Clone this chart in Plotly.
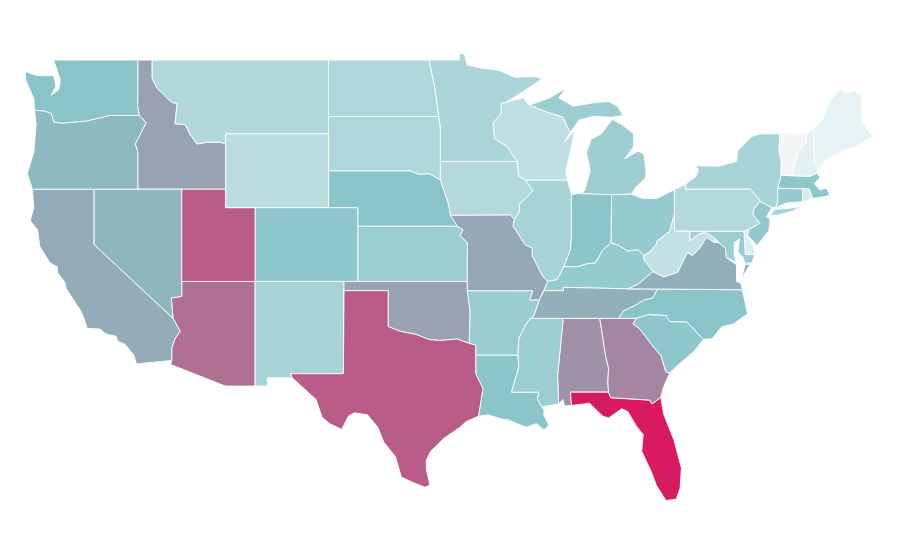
import plotly.graph_objects as go
from plotly.colors import sample_colorscale

# NOTE: state outlines below are hand-approximated lon/lat reference geometry,
# because Plotly's US topojson is fetched from a CDN and there is no network.
# They are coarser than the true boundaries in the reference chart.
# The reference uses a plain linear lon/lat projection, so linear axes reproduce it.
states = ["AL","AR","AZ","CA","CO","CT","DE","FL","GA","IA","ID","IL","IN","KS","KY","LA","MA","MD","ME","MI","MN","MO","MS","MT","NC","ND","NE","NH","NJ","NM","NV","NY","OH","OK","OR","PA","RI","SC","SD","TN","TX","UT","VA","VT","WA","WI","WV","WY"]
values = [58,34,70,49,38,35,8,100,62,24,52,29,39,33,35,39,38,33,5,33,27,50,33,25,40,26,40,6,36,29,45,28,35,52,44,24,10,38,26,47,77,77,47,0,40,20,18,22]
colorscale = [[0,"#f3f5f6"],[0.06,"#e3f1f3"],[0.4,"#88c4c8"],[1,"#d81b60"]]
lon_range = [-125.86, -64.63]
lat_range = [21.47, 51.82]

shapes = {
"WA":[[[-124.7,48.38],[-123.9,48.17],[-123.1,48.15],[-122.75,48.15],[-122.6,47.6],[-122.9,47.1],[-122.4,47.4],[-122.3,47.9],[-122.5,48.4],[-122.76,49],[-117.03,49],[-117.04,46.42],[-116.92,46],[-118.98,46],[-119.3,45.93],[-120.5,45.7],[-121.2,45.65],[-122.2,45.58],[-122.75,45.65],[-122.9,46.1],[-123.4,46.25],[-124.05,46.27],[-124.1,46.9],[-124.65,47.9]]],
"OR":[[[-124.05,46.27],[-123.4,46.25],[-122.9,46.1],[-122.75,45.65],[-122.2,45.58],[-121.2,45.65],[-120.5,45.7],[-119.3,45.93],[-118.98,46],[-116.92,46],[-116.47,45.6],[-116.85,45],[-117.2,44.45],[-117.03,44],[-117.03,42],[-124.2,42],[-124.55,42.85],[-124.1,44],[-123.95,45.5]]],
"CA":[[[-124.2,42],[-120,42],[-120,39],[-114.63,35],[-114.15,34.3],[-114.5,33.9],[-114.72,33.4],[-114.72,32.72],[-117.12,32.53],[-117.3,33],[-117.9,33.6],[-118.4,33.75],[-118.5,34.03],[-119.2,34.15],[-119.6,34.42],[-120.47,34.45],[-120.65,34.9],[-120.9,35.4],[-121.9,36.6],[-122,36.95],[-122.5,37.5],[-122.5,37.8],[-123,38],[-123.7,38.9],[-123.85,39.8],[-124.35,40.3],[-124.1,41]]],
"NV":[[[-120,42],[-114.04,42],[-114.04,36.2],[-114.75,36.1],[-114.63,35],[-120,39]]],
"ID":[[[-117.03,49],[-116.05,49],[-116.05,48],[-115.7,47.45],[-114.7,46.7],[-114.35,46.65],[-114.5,45.55],[-113.8,45.5],[-113.45,44.95],[-113,44.45],[-112.3,44.55],[-111.5,44.55],[-111.05,44.48],[-111.05,42],[-117.03,42],[-117.03,44],[-117.2,44.45],[-116.85,45],[-116.47,45.6],[-116.92,46],[-117.04,46.42]]],
"MT":[[[-116.05,49],[-104.05,49],[-104.05,45],[-111.05,45],[-111.05,44.48],[-111.5,44.55],[-112.3,44.55],[-113,44.45],[-113.45,44.95],[-113.8,45.5],[-114.5,45.55],[-114.35,46.65],[-114.7,46.7],[-115.7,47.45],[-116.05,48]]],
"WY":[[[-111.05,45],[-104.05,45],[-104.05,41],[-111.05,41]]],
"UT":[[[-114.04,42],[-111.05,42],[-111.05,41],[-109.05,41],[-109.05,37],[-114.04,37]]],
"CO":[[[-109.05,41],[-102.05,41],[-102.05,37],[-109.05,37]]],
"AZ":[[[-114.04,37],[-109.05,37],[-109.05,31.33],[-111.07,31.33],[-114.8,32.5],[-114.72,32.72],[-114.72,33.4],[-114.5,33.9],[-114.15,34.3],[-114.63,35],[-114.75,36.1],[-114.04,36.2]]],
"NM":[[[-109.05,37],[-103,37],[-103.04,32],[-106.62,32],[-106.53,31.78],[-108.2,31.78],[-108.2,31.33],[-109.05,31.33]]],
"TX":[[[-106.62,32],[-103.04,32],[-103,36.5],[-100,36.5],[-100,34.56],[-99.2,34.3],[-98.1,34.13],[-97.2,33.85],[-96.5,33.8],[-95.3,33.88],[-94.48,33.64],[-94.04,33.55],[-94.04,33],[-94.04,31.99],[-93.55,31.2],[-93.7,30.5],[-93.85,29.7],[-94.7,29.4],[-95.1,29.1],[-96.2,28.5],[-97.1,27.8],[-97.4,27.3],[-97.4,26.8],[-97.15,25.96],[-97.5,25.85],[-98.3,26.1],[-99.1,26.4],[-99.5,27.5],[-100.3,28.3],[-100.7,29.1],[-101.4,29.77],[-102.3,29.88],[-102.7,29.7],[-103.15,28.98],[-104,29.3],[-104.5,29.65],[-104.9,30.6],[-106,31.4],[-106.53,31.78]]],
"OK":[[[-103,37],[-94.62,37],[-94.62,36.5],[-94.43,35.4],[-94.48,33.64],[-95.3,33.88],[-96.5,33.8],[-97.2,33.85],[-98.1,34.13],[-99.2,34.3],[-100,34.56],[-100,36.5],[-103,36.5]]],
"KS":[[[-102.05,40],[-95.3,40],[-94.9,39.8],[-95.1,39.5],[-94.6,39.1],[-94.62,37],[-102.05,37]]],
"NE":[[[-104.05,43],[-98.5,43],[-97.9,42.8],[-97.2,42.85],[-96.45,42.5],[-96.1,41.7],[-95.9,41.2],[-95.77,40.58],[-95.3,40],[-102.05,40],[-102.05,41],[-104.05,41]]],
"SD":[[[-104.05,45.94],[-96.56,45.94],[-96.45,45.3],[-96.45,43.5],[-96.45,42.5],[-97.2,42.85],[-97.9,42.8],[-98.5,43],[-104.05,43]]],
"ND":[[[-104.05,49],[-97.23,49],[-96.85,47.6],[-96.56,45.94],[-104.05,45.94]]],
"MN":[[[-97.23,49],[-95.15,49],[-95.15,49.38],[-94.8,49.3],[-94.6,48.72],[-93.5,48.55],[-92.5,48.45],[-91.4,48.07],[-90,48.1],[-89.5,48],[-90.8,47.3],[-92,46.7],[-92.3,46.66],[-92.3,46.1],[-92.85,45.6],[-92.75,44.75],[-91.9,44.3],[-91.22,43.5],[-96.45,43.5],[-96.45,45.3],[-96.56,45.94],[-96.85,47.6]]],
"IA":[[[-96.45,43.5],[-91.22,43.5],[-91.1,42.7],[-90.64,42.5],[-90.15,41.9],[-91.05,41.2],[-91.1,40.7],[-91.42,40.38],[-91.7,40.6],[-95.77,40.58],[-95.9,41.2],[-96.1,41.7],[-96.45,42.5]]],
"MO":[[[-95.77,40.58],[-91.7,40.6],[-91.42,40.38],[-91.5,40],[-90.7,39],[-90.2,38.8],[-90.2,38.4],[-89.5,37.3],[-89.15,37],[-89.4,36.5],[-89.7,36],[-90.37,36],[-90.15,36.5],[-94.62,36.5],[-94.62,37],[-94.6,39.1],[-95.1,39.5],[-94.9,39.8],[-95.3,40]]],
"AR":[[[-94.62,36.5],[-90.15,36.5],[-90.37,36],[-89.7,36],[-90.1,35.1],[-90.3,35],[-90.6,34.7],[-91.1,33.9],[-91.17,33],[-94.04,33],[-94.04,33.55],[-94.48,33.64],[-94.43,35.4]]],
"LA":[[[-94.04,33],[-91.17,33],[-91.1,32.4],[-91.6,31],[-89.73,31],[-89.85,30.65],[-89.55,30.2],[-89.4,30.05],[-89.4,29.75],[-89.05,29.2],[-89.4,28.95],[-89.9,29.3],[-90.6,29.1],[-91.3,29.3],[-91.85,29.5],[-92.3,29.55],[-93.2,29.77],[-93.85,29.7],[-93.7,30.5],[-93.55,31.2],[-94.04,31.99]]],
"MS":[[[-90.3,35],[-88.2,35],[-88.1,34.9],[-88.47,31.9],[-88.4,30.37],[-89.55,30.2],[-89.85,30.65],[-89.73,31],[-91.6,31],[-91.1,32.4],[-91.17,33],[-91.1,33.9],[-90.6,34.7]]],
"AL":[[[-88.2,35],[-85.6,35],[-85.18,32.87],[-85,32.3],[-85.05,31.55],[-85,31],[-87.6,31],[-87.52,30.28],[-88,30.25],[-88.1,30.6],[-88.4,30.37],[-88.47,31.9],[-88.1,34.9]]],
"GA":[[[-85.6,35],[-83.1,35],[-83.35,34.7],[-82.9,34.45],[-81.9,33.4],[-81.45,33],[-81.1,32.1],[-80.85,32.03],[-81.3,31.2],[-81.45,30.72],[-82.05,30.36],[-82.2,30.57],[-84.86,30.7],[-85,31],[-85.05,31.55],[-85,32.3],[-85.18,32.87]]],
"FL":[[[-87.6,31],[-85,31],[-84.86,30.7],[-82.2,30.57],[-82.05,30.36],[-81.45,30.72],[-81.25,29.8],[-80.55,28.4],[-80.05,26.9],[-80.13,25.8],[-80.4,25.2],[-81.1,25.13],[-81.75,25.95],[-82.1,26.7],[-82.75,27.8],[-82.65,28.7],[-83.1,29.15],[-83.7,29.95],[-84.1,30.1],[-85,29.6],[-85.4,29.7],[-86.3,30.4],[-87.52,30.28]]],
"SC":[[[-83.1,35],[-82.3,35.2],[-81.05,35.15],[-81.05,35.05],[-80.8,34.82],[-79.67,34.8],[-78.55,33.86],[-79.2,33.2],[-80.45,32.35],[-80.85,32.03],[-81.1,32.1],[-81.45,33],[-81.9,33.4],[-82.9,34.45],[-83.35,34.7]]],
"NC":[[[-84.32,35],[-83.1,35],[-82.3,35.2],[-81.05,35.15],[-81.05,35.05],[-80.8,34.82],[-79.67,34.8],[-78.55,33.86],[-77.95,33.9],[-77.3,34.55],[-76.5,34.7],[-75.55,35.25],[-75.9,36.55],[-81.68,36.59],[-82,36.1],[-82.6,36],[-83.1,35.75],[-84,35.4]]],
"TN":[[[-90.3,35],[-84.32,35],[-84,35.4],[-83.1,35.75],[-82.6,36],[-82,36.1],[-81.68,36.59],[-83.68,36.6],[-88.07,36.68],[-88.07,36.5],[-89.4,36.5],[-89.7,36],[-90.1,35.1]]],
"KY":[[[-89.4,36.5],[-88.07,36.5],[-88.07,36.68],[-83.68,36.6],[-83,36.85],[-81.97,37.54],[-82.6,38.17],[-82.6,38.4],[-83,38.72],[-83.7,38.65],[-84.3,38.95],[-84.82,39.1],[-85.4,38.7],[-85.9,38],[-86.5,37.95],[-87.1,37.8],[-88.05,37.8],[-88.5,37.1],[-89.15,37]]],
"VA":[[[-83.68,36.6],[-81.68,36.59],[-75.9,36.55],[-76,36.9],[-76.3,37],[-76.3,37.55],[-76.3,37.9],[-77,38.3],[-77.05,38.8],[-77.5,39.1],[-77.83,39.13],[-78.35,39.4],[-78.85,38.75],[-79.3,38.42],[-79.65,38.58],[-80.3,37.5],[-81.25,37.25],[-81.97,37.54],[-83,36.85]],[[-75.95,37.15],[-75.4,37.9],[-75.7,37.95]]],
"WV":[[[-81.97,37.54],[-81.25,37.25],[-80.3,37.5],[-79.65,38.58],[-79.3,38.42],[-78.85,38.75],[-78.35,39.4],[-77.83,39.13],[-77.72,39.32],[-78.35,39.63],[-78.8,39.6],[-79.48,39.2],[-79.48,39.72],[-80.52,39.72],[-80.52,40.64],[-80.85,39.7],[-81.7,39.2],[-81.75,39],[-82.2,38.6],[-82.6,38.4],[-82.6,38.17]]],
"MD":[[[-79.48,39.72],[-75.79,39.72],[-75.7,38.46],[-75.05,38.45],[-75.25,38.03],[-75.7,37.95],[-75.85,38.3],[-76.2,38.6],[-76.1,39.3],[-76.45,39.1],[-76.45,38.4],[-76.3,38.05],[-77,38.3],[-77.05,38.8],[-77.5,39.1],[-77.72,39.32],[-78.35,39.63],[-78.8,39.6],[-79.48,39.2]]],
"DE":[[[-75.79,39.72],[-75.45,39.82],[-75.55,39.45],[-75.1,38.8],[-75.05,38.45],[-75.7,38.46]]],
"PA":[[[-80.52,41.98],[-79.76,42.27],[-79.76,42],[-75.35,42],[-74.7,41.36],[-75.1,40.95],[-75.2,40.65],[-74.72,40.15],[-75.45,39.82],[-75.79,39.72],[-80.52,39.72]]],
"NJ":[[[-74.7,41.36],[-73.9,41],[-74.25,40.5],[-74,40.4],[-74.1,39.75],[-74.9,38.95],[-75.55,39.5],[-75.45,39.82],[-74.72,40.15],[-75.2,40.65],[-75.1,40.95]]],
"NY":[[[-79.76,42.27],[-79.05,42.7],[-78.9,43],[-79.05,43.27],[-77.5,43.25],[-76.3,43.5],[-76.2,44.1],[-75.3,44.85],[-74.7,45],[-73.35,45],[-73.4,44],[-73.25,43.6],[-73.27,42.75],[-73.5,42.05],[-73.5,41.3],[-73.65,41],[-73.9,41],[-74.7,41.36],[-75.35,42],[-79.76,42]],[[-74,40.6],[-73.7,40.9],[-72.6,40.98],[-71.9,41.07],[-72.5,40.8],[-73.6,40.58]]],
"CT":[[[-73.5,42.05],[-71.8,42.02],[-71.8,41.32],[-72.9,41.25],[-73.65,41],[-73.5,41.3]]],
"RI":[[[-71.8,42.02],[-71.38,42.02],[-71.12,41.5],[-71.8,41.32]]],
"MA":[[[-73.5,42.05],[-73.27,42.75],[-71.3,42.7],[-70.82,42.87],[-70.6,42.65],[-71,42.3],[-70.6,41.95],[-70.2,42.07],[-70,41.8],[-70,41.65],[-70.65,41.55],[-71.12,41.5],[-71.38,42.02],[-71.8,42.02]]],
"VT":[[[-73.35,45],[-71.5,45],[-71.6,44.5],[-72.05,44.1],[-72.4,43.3],[-72.46,42.73],[-73.27,42.75],[-73.25,43.6],[-73.4,44]]],
"NH":[[[-71.08,45.3],[-71.5,45],[-71.6,44.5],[-72.05,44.1],[-72.4,43.3],[-72.46,42.73],[-71.3,42.7],[-70.82,42.87],[-70.7,43.07],[-70.98,43.4]]],
"ME":[[[-71.08,45.3],[-70.4,45.8],[-70.25,46.2],[-70,46.7],[-69.23,47.46],[-68.9,47.2],[-68.3,47.35],[-67.8,47.07],[-67.8,45.7],[-67.45,45.3],[-67,44.85],[-68.2,44.3],[-69,44.1],[-70.2,43.6],[-70.7,43.07],[-70.98,43.4]]],
"OH":[[[-84.82,39.1],[-84.8,41.7],[-83.45,41.73],[-82.7,41.5],[-81.7,41.5],[-80.52,41.98],[-80.52,40.64],[-80.85,39.7],[-81.7,39.2],[-81.75,39],[-82.2,38.6],[-82.6,38.4],[-83,38.72],[-83.7,38.65],[-84.3,38.95]]],
"IN":[[[-88.05,37.8],[-87.1,37.8],[-86.5,37.95],[-85.9,38],[-85.4,38.7],[-84.82,39.1],[-84.8,41.7],[-84.8,41.76],[-87.2,41.76],[-87.53,41.7],[-87.53,39.35],[-87.6,38.7]]],
"IL":[[[-91.42,40.38],[-91.1,40.7],[-91.05,41.2],[-90.15,41.9],[-90.64,42.5],[-87.8,42.5],[-87.53,41.7],[-87.53,39.35],[-87.6,38.7],[-88.05,37.8],[-88.5,37.1],[-89.15,37],[-89.5,37.3],[-90.2,38.4],[-90.2,38.8],[-90.7,39],[-91.5,40]]],
"WI":[[[-92.3,46.66],[-92,46.7],[-90.8,46.95],[-90.4,46.55],[-89.1,46.15],[-88.1,45.9],[-87.8,45.35],[-87.6,45.1],[-88,44.55],[-87.3,45.2],[-87.5,44.4],[-87.9,43],[-87.8,42.5],[-90.64,42.5],[-91.1,42.7],[-91.22,43.5],[-91.9,44.3],[-92.75,44.75],[-92.85,45.6],[-92.3,46.1]]],
"MI":[[[-86.8,41.76],[-84.8,41.7],[-83.45,41.73],[-83.15,42.1],[-82.5,42.6],[-82.45,43],[-82.6,43.9],[-83,44.07],[-83.9,43.65],[-83.3,44.3],[-83.3,45],[-84.1,45.5],[-84.75,45.78],[-85.5,45],[-86.2,44.7],[-86.5,44],[-86.25,43],[-86.6,42]],[[-90.4,46.55],[-89.1,46.15],[-88.1,45.9],[-87.8,45.35],[-87.6,45.1],[-87,45.75],[-86,45.95],[-84.75,45.9],[-84,46],[-84.4,46.5],[-85,46.75],[-86.1,46.67],[-87.4,46.5],[-88.4,46.95],[-87.9,47.47],[-89,46.95]]],
}

colors = sample_colorscale(colorscale, [v / 100 for v in values])

fig = go.Figure()
for name, value, color in zip(states, values, colors):
    xs, ys = [], []
    for ring in shapes[name]:
        closed = ring + [ring[0]]
        xs += [p[0] for p in closed] + [None]
        ys += [p[1] for p in closed] + [None]
    fig.add_trace(go.Scatter(
        x=xs, y=ys, mode="lines", fill="toself", fillcolor=color,
        line=dict(color="white", width=0.9), name=name, hoveron="fills",
        text=f"{name}: {value}", hoverinfo="text", showlegend=False,
    ))
fig.update_xaxes(visible=False, range=lon_range, fixedrange=True)
fig.update_yaxes(visible=False, range=lat_range, fixedrange=True)
fig.update_layout(
    width=900, height=560, margin=dict(l=0, r=0, t=0, b=0),
    paper_bgcolor="white", plot_bgcolor="white",
)
fig.write_html("out.html")
